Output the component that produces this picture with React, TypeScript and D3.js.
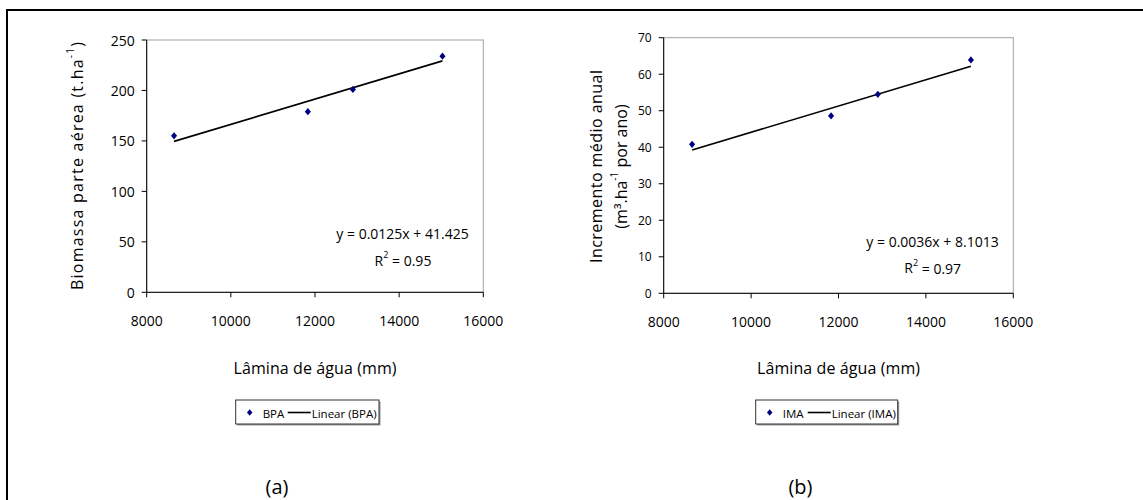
import React from "react";
import * as d3 from "d3";

// Data
const laminaAgua = [8650, 11830, 12900, 15030];
const bpaValues = [155, 179, 201, 234];
const imaValues = [40.8, 48.6, 54.5, 63.9];

const xTicks = [8000, 10000, 12000, 14000, 16000];
const bpaTicks = [0, 50, 100, 150, 200, 250];
const imaTicks = [0, 10, 20, 30, 40, 50, 60, 70];

const bpaFit = { slope: 0.0125, intercept: 41.425, r2: "0.95", eq: "y = 0.0125x + 41.425" };
const imaFit = { slope: 0.0036, intercept: 8.1013, r2: "0.97", eq: "y = 0.0036x + 8.1013" };

const FONT = "'Open Sans', 'Noto Sans', sans-serif";

type PanelProps = {
  left: number;
  right: number;
  top: number;
  bottom: number;
  yMax: number;
  yTicks: number[];
  values: number[];
  fit: { slope: number; intercept: number; r2: string; eq: string };
  yTickSize: number;
  yTitle: React.ReactNode;
  eqX: number;
  eqY: number;
  r2X: number;
  r2Y: number;
  legendX: number;
  legendW: number;
  seriesName: string;
  label: string;
};

function Diamond({ x, y, r = 3.6 }: { x: number; y: number; r?: number }) {
  return (
    <path
      d={`M${x},${y - r}L${x + r * 0.85},${y}L${x},${y + r}L${x - r * 0.85},${y}Z`}
      fill="#000080"
    />
  );
}

function Panel(p: PanelProps) {
  const x = d3.scaleLinear().domain([8000, 16000]).range([p.left, p.right]);
  const y = d3.scaleLinear().domain([0, p.yMax]).range([p.bottom, p.top]);
  const xs = [laminaAgua[0], laminaAgua[laminaAgua.length - 1]];
  const line = d3
    .line<number>()
    .x((d) => x(d))
    .y((d) => y(p.fit.slope * d + p.fit.intercept));
  const cx = (p.left + p.right) / 2;
  const ly = 400;
  const lh = 24;
  return (
    <g fontFamily={FONT} fill="#000">
      {/* plot frame */}
      <rect
        x={p.left}
        y={p.top}
        width={p.right - p.left}
        height={p.bottom - p.top}
        fill="none"
        stroke="#a0a0a0"
        strokeWidth={1}
      />
      {/* axes */}
      <line x1={p.left} x2={p.left} y1={p.top} y2={p.bottom} stroke="#000" strokeWidth={1} />
      <line x1={p.left} x2={p.right} y1={p.bottom} y2={p.bottom} stroke="#000" strokeWidth={1} />
      {p.yTicks.map((t) => (
        <g key={"y" + t}>
          <line x1={p.left - 5} x2={p.left} y1={y(t)} y2={y(t)} stroke="#000" />
          <text
            x={p.left - 12}
            y={y(t)}
            textAnchor="end"
            dominantBaseline="central"
            fontSize={p.yTickSize}
          >
            {t}
          </text>
        </g>
      ))}
      {xTicks.map((t) => (
        <g key={"x" + t}>
          <line x1={x(t)} x2={x(t)} y1={p.bottom} y2={p.bottom + 5} stroke="#000" />
          <text x={x(t)} y={p.bottom + 28} textAnchor="middle" dominantBaseline="central" fontSize={14}>
            {t}
          </text>
        </g>
      ))}
      {/* trend line */}
      <path d={line(xs) || ""} fill="none" stroke="#000" strokeWidth={1.6} />
      {/* points */}
      {laminaAgua.map((lx, i) => (
        <Diamond key={i} x={x(lx)} y={y(p.values[i])} />
      ))}
      {/* equation */}
      <text x={p.eqX} y={p.eqY} textAnchor="middle" dominantBaseline="central" fontSize={14}>
        {p.fit.eq}
      </text>
      <text x={p.r2X} y={p.r2Y} textAnchor="middle" dominantBaseline="central" fontSize={14}>
        R<tspan dy={-6} fontSize={9}>2</tspan>
        <tspan dy={6}> = {p.fit.r2}</tspan>
      </text>
      {/* y title */}
      {p.yTitle}
      {/* x title */}
      <text
        x={cx}
        y={368}
        textAnchor="middle"
        dominantBaseline="central"
        fontSize={16}
        textLength={163}
        lengthAdjust="spacing"
      >
        Lâmina de água (mm)
      </text>
      {/* legend */}
      <rect x={p.legendX + 1.5} y={ly + 1.5} width={p.legendW} height={lh} fill="#999" />
      <rect x={p.legendX} y={ly} width={p.legendW} height={lh} fill="#fff" stroke="#333" strokeWidth={1} />
      <Diamond x={p.legendX + 14} y={ly + 12.5} r={3.2} />
      <text x={p.legendX + 27} y={ly + 13} dominantBaseline="central" fontSize={11.5}>
        {p.seriesName}
      </text>
      <line
        x1={p.legendX + 52}
        x2={p.legendX + 75}
        y1={ly + 12.5}
        y2={ly + 12.5}
        stroke="#000"
        strokeWidth={1.6}
      />
      <text x={p.legendX + 76} y={ly + 13} dominantBaseline="central" fontSize={11.5}>
        Linear ({p.seriesName})
      </text>
      {/* panel label */}
      <text x={cx - 38} y={486} textAnchor="middle" dominantBaseline="central" fontSize={20}>
        {p.label}
      </text>
    </g>
  );
}

export default function App() {
  return (
    <svg
      width={1143}
      height={500}
      style={{ position: "absolute", left: 0, top: 0, background: "#fff" }}
    >
      <rect x={0} y={0} width={1143} height={500} fill="#fff" />
      {/* outer frame lines */}
      <line x1={7} x2={1143} y1={10} y2={10} stroke="#000" strokeWidth={2} />
      <line x1={7} x2={7} y1={9} y2={500} stroke="#000" strokeWidth={2} />
      <Panel
        left={146.7}
        right={483.3}
        top={40}
        bottom={292.3}
        yMax={250}
        yTicks={bpaTicks}
        values={bpaValues}
        fit={bpaFit}
        yTickSize={14}
        yTitle={
          <text
            transform="translate(77,166) rotate(-90)"
            textAnchor="middle"
            dominantBaseline="central"
            fontSize={16}
            fontFamily={FONT}
            textLength={248}
            lengthAdjust="spacing"
          >
            Biomassa parte aérea (t.ha<tspan dy={-7} fontSize={10}>-1</tspan>
            <tspan dy={7}>)</tspan>
          </text>
        }
        eqX={402.5}
        eqY={233}
        r2X={403}
        r2Y={260}
        legendX={235.7}
        legendW={143.3}
        seriesName="BPA"
        label="(a)"
      />
      <Panel
        left={663.7}
        right={1013.3}
        top={37.7}
        bottom={293.3}
        yMax={70}
        yTicks={imaTicks}
        values={imaValues}
        fit={imaFit}
        yTickSize={12}
        yTitle={
          <g fontFamily={FONT} fontSize={16}>
            <text
              transform="translate(596,166.5) rotate(-90)"
              textAnchor="middle"
              dominantBaseline="central"
              textLength={193}
              lengthAdjust="spacing"
            >
              Incremento médio anual
            </text>
            <text
              transform="translate(621,166.5) rotate(-90)"
              textAnchor="middle"
              dominantBaseline="central"
            >
              (m³.ha<tspan dy={-7} fontSize={10}>-1</tspan>
              <tspan dy={7}> por ano)</tspan>
            </text>
          </g>
        }
        eqX={932.5}
        eqY={241.7}
        r2X={932.7}
        r2Y={267.7}
        legendX={755.7}
        legendW={142}
        seriesName="IMA"
        label="(b)"
      />
    </svg>
  );
}
